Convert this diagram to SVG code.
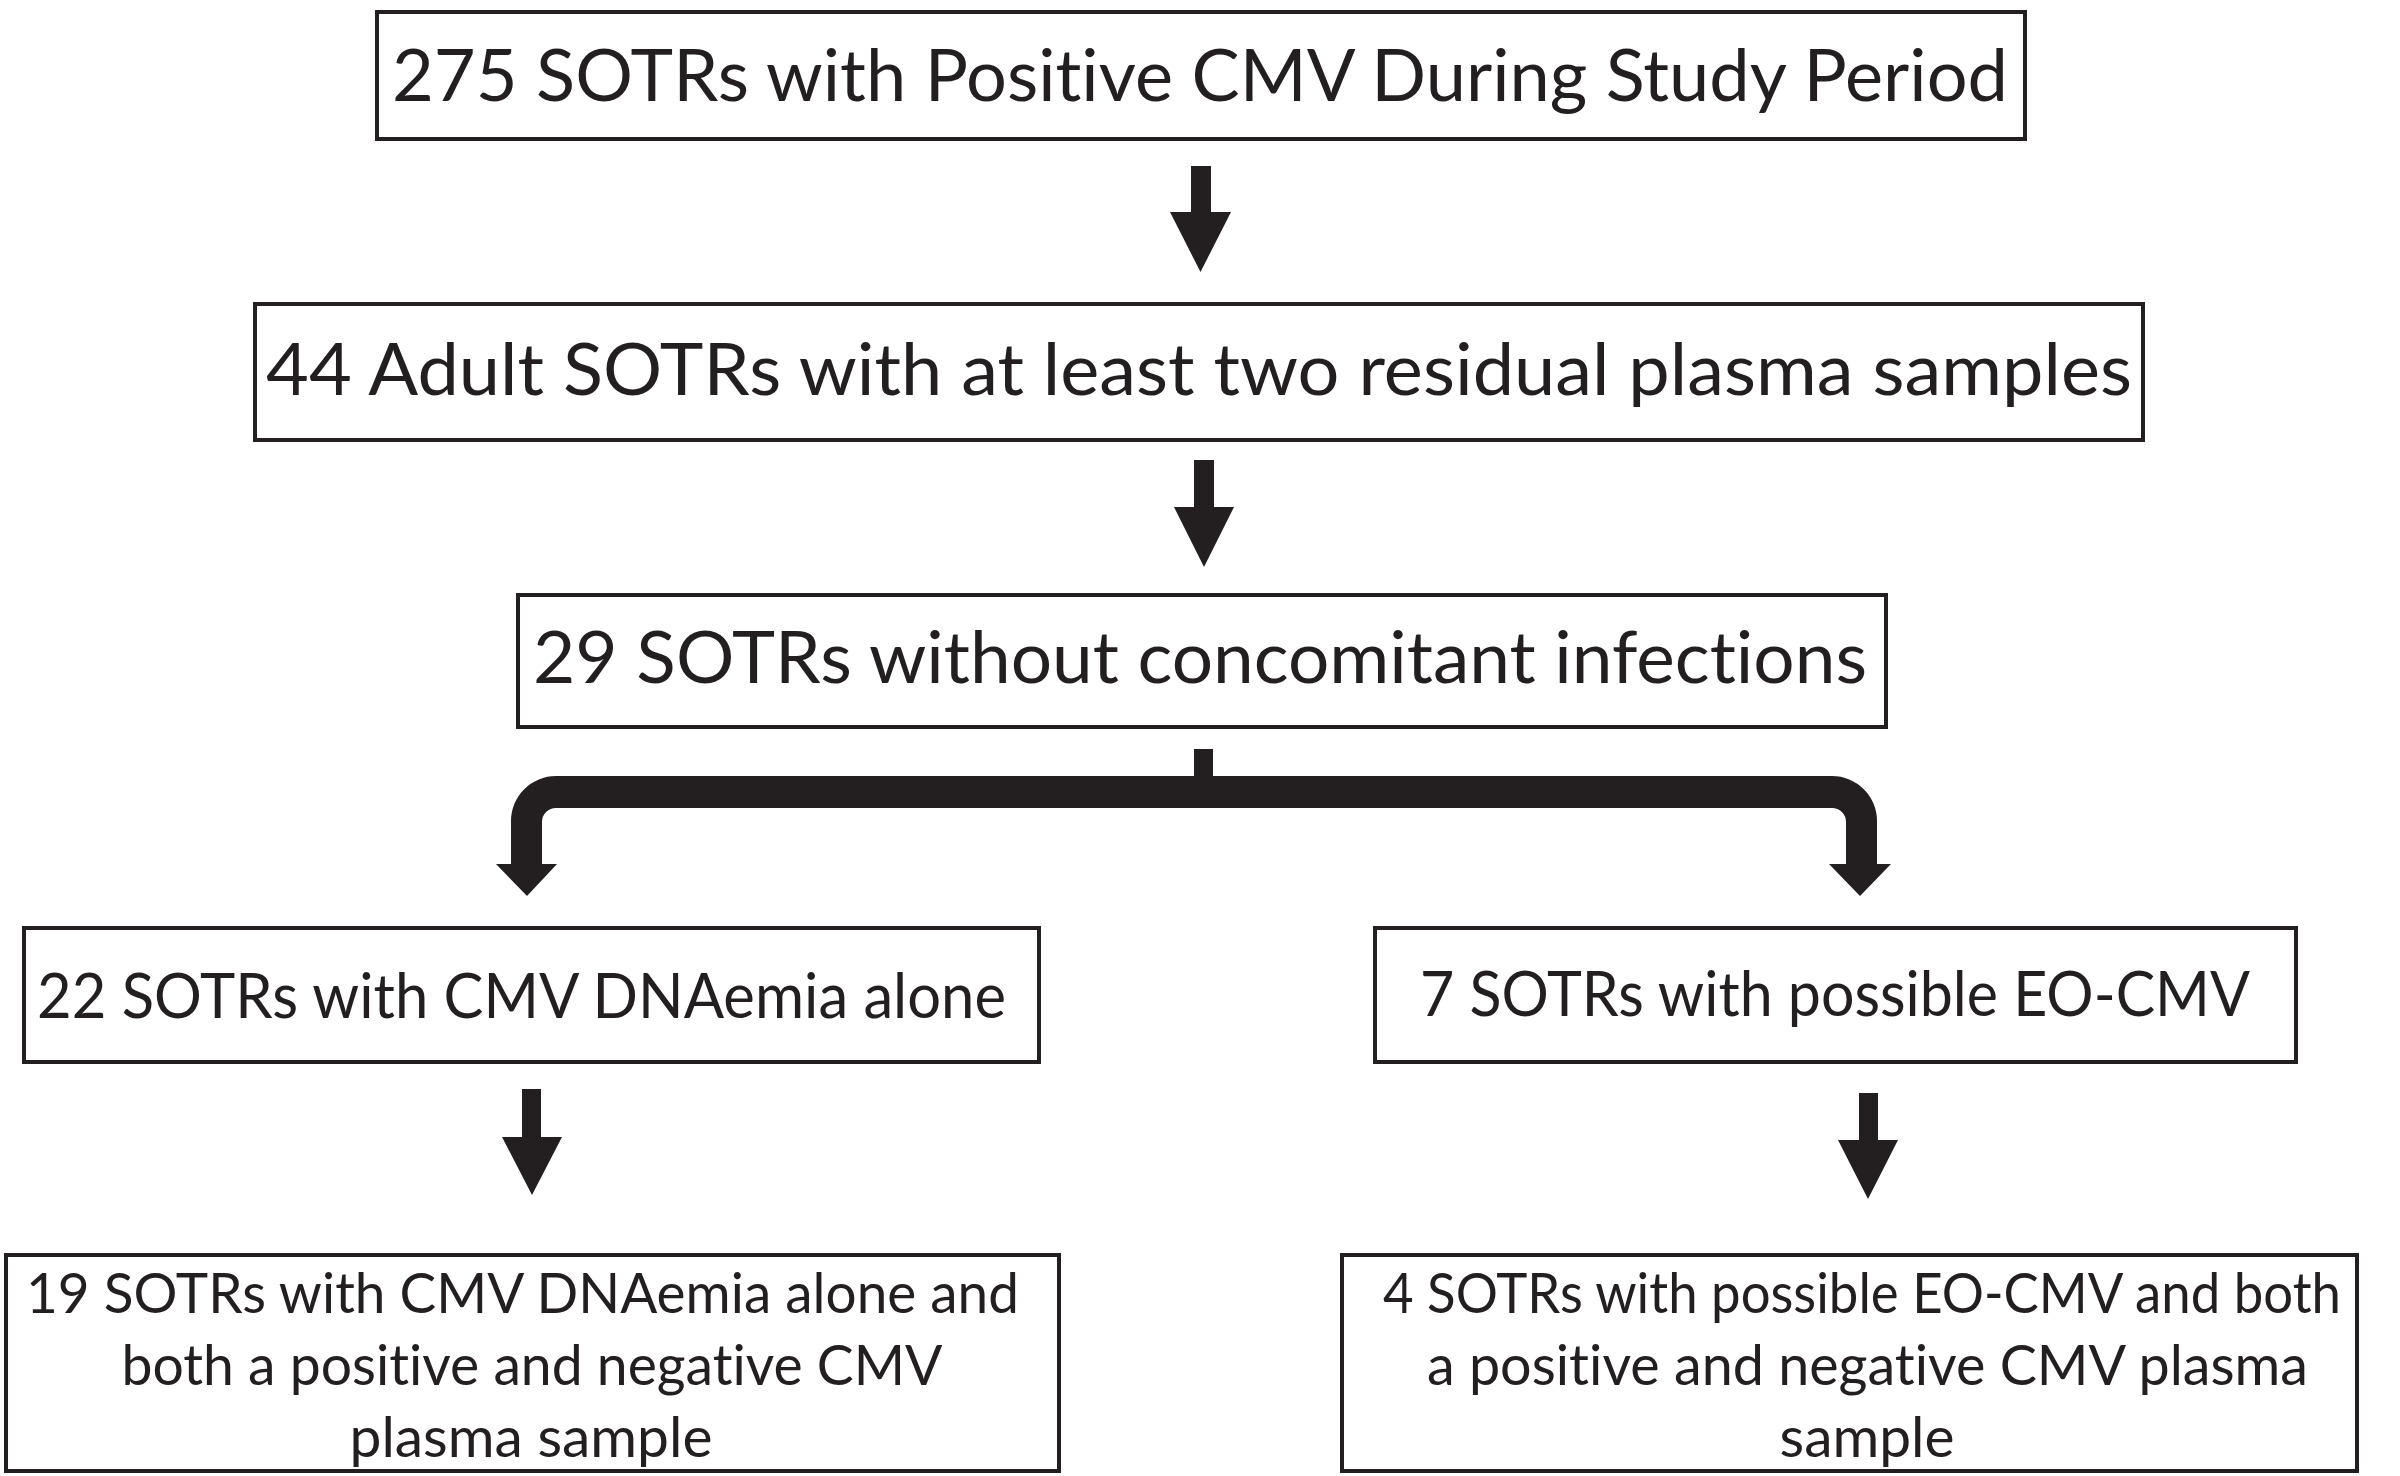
<svg xmlns="http://www.w3.org/2000/svg" width="2400" height="1476" viewBox="0 0 2400 1476">
<style>
.box{fill:#ffffff;stroke:#231f20;stroke-width:4}
.t{font-family:Lato,"Open Sans","Liberation Sans",sans-serif;fill:#231f20;text-anchor:middle;font-variant-ligatures:none}
.big{font-size:72px}
.mid{font-size:61px}
.sm{font-size:57px}
.arr{fill:#231f20}
</style>
<rect width="2400" height="1476" fill="#ffffff"/>
<g id="node1">
<rect class="box" x="377" y="12" width="1648" height="127"/>
<text class="t big" x="1200" y="101" textLength="1616" lengthAdjust="spacingAndGlyphs">275 SOTRs with Positive CMV During Study Period</text>
</g>
<g id="node2">
<rect class="box" x="255" y="304" width="1888" height="136"/>
<text class="t big" x="1199" y="395" textLength="1866" lengthAdjust="spacingAndGlyphs">44 Adult SOTRs with at least two residual plasma samples</text>
</g>
<g id="node3">
<rect class="box" x="518" y="595" width="1368" height="132"/>
<text class="t big" x="1200" y="683" textLength="1334" lengthAdjust="spacingAndGlyphs">29 SOTRs without concomitant infections</text>
</g>
<g id="node4">
<rect class="box" x="24" y="928" width="1015" height="134"/>
<text class="t mid" x="521.5" y="1018" textLength="969" lengthAdjust="spacingAndGlyphs">22 SOTRs with CMV DNAemia alone</text>
</g>
<g id="node5">
<rect class="box" x="1375" y="928" width="921" height="134"/>
<text class="t mid" x="1835" y="1016" textLength="830" lengthAdjust="spacingAndGlyphs">7 SOTRs with possible EO-CMV</text>
</g>
<g id="node6">
<rect class="box" x="6" y="1255" width="1053" height="216"/>
<text class="t sm" x="522.5" y="1313" textLength="993" lengthAdjust="spacingAndGlyphs">19 SOTRs with CMV DNAemia alone and</text>
<text class="t sm" x="532" y="1385" textLength="821" lengthAdjust="spacingAndGlyphs">both a positive and negative CMV</text>
<text class="t sm" x="531" y="1457" textLength="363" lengthAdjust="spacingAndGlyphs">plasma sample</text>
</g>
<g id="node7">
<rect class="box" x="1342" y="1255" width="1015" height="216"/>
<text class="t sm" x="1862" y="1313" textLength="958" lengthAdjust="spacingAndGlyphs">4 SOTRs with possible EO-CMV and both</text>
<text class="t sm" x="1867.5" y="1385" textLength="881" lengthAdjust="spacingAndGlyphs">a positive and negative CMV plasma</text>
<text class="t sm" x="1867" y="1457" textLength="175" lengthAdjust="spacingAndGlyphs">sample</text>
</g>
<g id="connectors">
<polygon class="arr" points="1191,166 1211,166 1211,212 1231,212 1200.5,272 1170,212 1191,212"/>
<polygon class="arr" points="1194,460 1214,460 1214,507 1234,507 1204,567 1174,507 1194,507"/>
<path class="arr" d="M 1194 749 H 1213 V 776 H 1832 A 45 45 0 0 1 1877 821 V 864 H 1891 L 1860 896 L 1829 864 H 1846 V 822 A 14 14 0 0 0 1832 808 H 556 A 14 14 0 0 0 542 822 V 864 H 557 L 527 896 L 496 864 H 511 V 821 A 45 45 0 0 1 556 776 H 1194 Z"/>
<polygon class="arr" points="522,1089 541,1089 541,1137 562,1137 532,1195 502,1137 522,1137"/>
<polygon class="arr" points="1859,1093 1878,1093 1878,1140 1898,1140 1868,1199 1838,1140 1859,1140"/>
</g>
</svg>
